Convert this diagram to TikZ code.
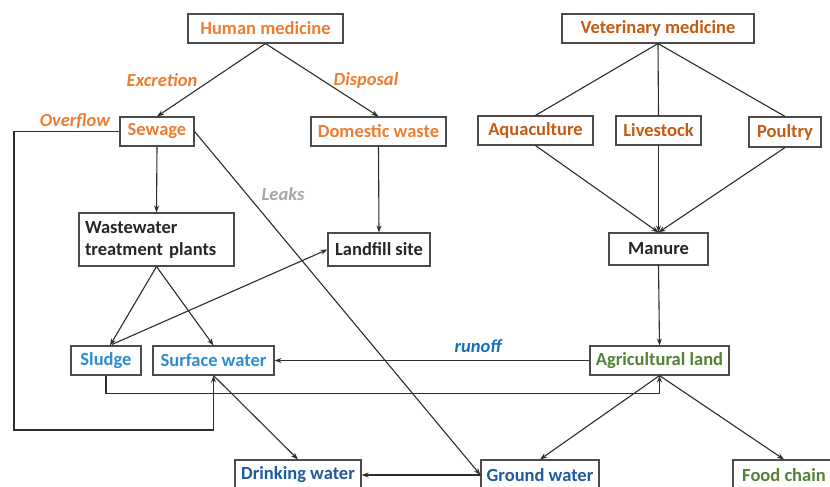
\documentclass[tikz,border=0pt]{standalone}
\usepackage{fontspec}
\setmainfont{Carlito}
\usetikzlibrary{arrows.meta,calc}

\definecolor{humanorange}{RGB}{237,125,49}
\definecolor{vetorange}{RGB}{197,90,17}
\definecolor{lightblue}{RGB}{46,141,206}
\definecolor{darkblue}{RGB}{31,90,160}
\definecolor{runoffblue}{RGB}{20,110,190}
\definecolor{leafgreen}{RGB}{84,130,53}
\definecolor{leakgray}{RGB}{166,166,166}
\definecolor{linegray}{RGB}{45,45,45}
\definecolor{boxgray}{RGB}{75,75,75}

\tikzset{
  box/.style={draw=boxgray, line width=1.1pt, fill=white, rectangle,
    inner sep=2pt, font=\fontsize{18.5}{22}\selectfont\bfseries},
  flow/.style={draw=linegray, line width=1.1pt,
    -{Stealth[length=7pt,width=5pt]}},
  link/.style={draw=linegray, line width=1.1pt},
  tag/.style={font=\fontsize{18.5}{22}\selectfont\bfseries\itshape, inner sep=1pt},
}

\begin{document}
\begin{tikzpicture}[x=1pt,y=-1pt]
\clip (0,0) rectangle (830,487);
\fill[white] (0,0) rectangle (830,487);

% sources
\node[box, text=humanorange, minimum width=155pt, minimum height=29pt] (hm) at (265.5,28.5) {Human medicine};
\node[box, text=vetorange, minimum width=192pt, minimum height=29pt] (vm) at (658,28.5) {Veterinary medicine};

% second level
\node[box, text=humanorange, minimum width=74pt, minimum height=29pt] (sew) at (157,131.5) {Sewage};
\node[box, text=humanorange, minimum width=135pt, minimum height=29pt] (dw) at (378.5,131.5) {Domestic waste};
\node[box, text=vetorange, minimum width=115pt, minimum height=29pt] (aq) at (535.5,130.5) {Aquaculture};
\node[box, text=vetorange, minimum width=85pt, minimum height=29pt] (ls) at (658.5,130.5) {Livestock};
\node[box, text=vetorange, minimum width=72pt, minimum height=30pt] (po) at (785,132) {Poultry};

% treatment and storage
\node[box, text=black!85, minimum width=155pt, minimum height=53pt, align=left, text width=143pt] (wwtp) at (156.5,239.5) {Wastewater\\treatment plants};
\node[box, text=black!85, minimum width=102pt, minimum height=33pt] (lf) at (379,249.5) {Landfill site};
\node[box, text=black!85, minimum width=99pt, minimum height=32pt] (man) at (658.5,249) {Manure};

% environment
\node[box, text=lightblue, minimum width=70pt, minimum height=29pt] (sl) at (106,360.5) {Sludge};
\node[box, text=lightblue, minimum width=121pt, minimum height=29pt] (sw) at (213.5,360.5) {Surface water};
\node[box, text=leafgreen, minimum width=139pt, minimum height=29pt] (ag) at (659.5,360.5) {Agricultural land};

% receptors
\node[box, text=darkblue, minimum width=126pt, minimum height=30pt] (drk) at (298,475) {Drinking water};
\node[box, text=darkblue, minimum width=118pt, minimum height=30pt] (gw) at (540,475) {Ground water};
\node[box, text=leafgreen, minimum width=102pt, minimum height=30pt] (fc) at (784,475) {Food chain};

% human medicine pathways
\draw[flow] (hm.south) -- (sew.north);
\draw[flow] (hm.south) -- (dw.north);
\draw[flow] (sew.south) -- (wwtp.north);
\draw[flow] (dw.south) -- (lf.north);
\draw[flow] (sew.east) -- (gw.west);
\coordinate (ovl) at (14,430);
\draw[flow] (sew.west) -| (ovl) -| (sw.south);
\draw[flow] (wwtp.south) -- ($(sl.north)+(4,0)$);
\draw[flow] (wwtp.south) -- (sw.north);
\draw[flow] ($(sl.north)+(6,-1)$) -- (lf.west);

% veterinary medicine pathways
\draw[link] (vm.south) -- (aq.north);
\draw[link] (vm.south) -- (ls.north);
\draw[link] (vm.south) -- (po.north);
\draw[flow] (aq.south) -- (man.north);
\draw[flow] (ls.south) -- (man.north);
\draw[flow] (po.south) -- (man.north);
\draw[flow] (man.south) -- (ag.north);

% environmental transfers
\draw[flow] (ag.west) -- (sw.east);
\coordinate (slb) at (106,393.5);
\draw[flow] (sl.south) -- (slb) -| (ag.south);
\draw[flow] (ag.south) -- (gw.north);
\draw[flow] (ag.south) -- (fc.north);
\draw[flow] (sw.south) -- (drk.north);
\draw[flow] (gw.west) -- (drk.east);

% pathway labels
\node[tag, text=humanorange] (lexc) at (162,80) {Excretion};
\node[tag, text=humanorange] (ldis) at (366,80) {Disposal};
\node[tag, text=humanorange] (lovf) at (75,121) {Overflow};
\node[tag, text=leakgray] (llek) at (283,194) {Leaks};
\node[tag, text=runoffblue] (lrun) at (478,346) {runoff};
\end{tikzpicture}
\end{document}
